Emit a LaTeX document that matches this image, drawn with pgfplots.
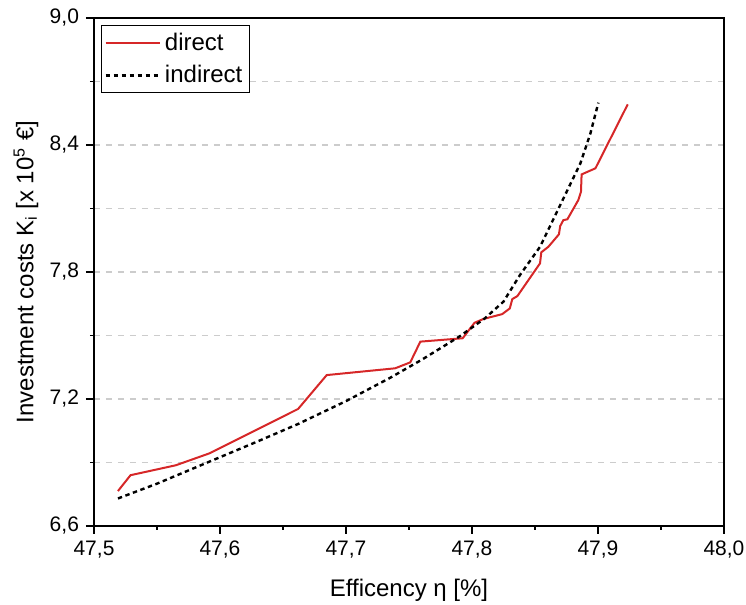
\documentclass[border=0pt]{standalone}
\usepackage{fontspec}
\setmainfont{Liberation Sans}
\usepackage{pgfplots}
\pgfplotsset{compat=1.18}
\definecolor{dred}{RGB}{214,39,40}
\begin{document}
\begin{tikzpicture}
\begin{axis}[
  at={(0,0)}, anchor=south west,
  scale only axis, width=315pt, height=254pt,
  xmin=47.5, xmax=48.0, ymin=6.6, ymax=9.0,
  xtick={47.5,47.6,47.7,47.8,47.9,48.0},
  ytick={6.6,7.2,7.8,8.4,9.0},
  minor x tick num=1, minor y tick num=1,
  tick align=outside, tick pos=left,
  major tick length=4pt, minor tick length=2pt,
  axis line style={line width=1pt},
  every tick/.style={black, line width=0.8pt},
  ymajorgrids, yminorgrids,
  major grid style={dashed, gray!40, line width=0.6pt},
  minor grid style={dashed, gray!40, line width=0.6pt},
  /pgf/number format/assume math mode=true,
  /pgf/number format/.cd, use comma, fixed, fixed zerofill, precision=1, 1000 sep={},
  /pgfplots/.cd,
  tick label style={font=\fontsize{10.5}{12}\selectfont},
  label style={font=\fontsize{12}{14}\selectfont},
  xlabel={Efficency η [\%]},
  ylabel={Investment costs K\textsubscript{i} [x 10\textsuperscript{5} €]},
  xlabel style={at={(axis description cs:0.5,0)}, anchor=center, yshift=-32pt},
  ylabel style={at={(axis description cs:0,0.5)}, anchor=center, rotate=0, yshift=34pt},
  legend style={at={(0.011,0.986)}, anchor=north west, draw=black, line width=0.6pt,
    font=\fontsize{12}{14}\selectfont, inner sep=1.5pt, row sep=2pt},
  legend cell align=left,
  legend image code/.code={\draw[#1] (0cm,0cm) -- (0.95cm,0cm);},
]
\addplot[dred, line width=1pt] coordinates {
(47.519,6.765) (47.529,6.840) (47.565,6.887) (47.5915,6.943) (47.662,7.153)
(47.6847,7.313) (47.739,7.345) (47.751,7.373) (47.759,7.471) (47.7926,7.487)
(47.802,7.560) (47.809,7.578) (47.824,7.601) (47.830,7.628) (47.832,7.672)
(47.836,7.686) (47.854,7.841) (47.855,7.893) (47.8606,7.919) (47.869,7.978)
(47.870,8.017) (47.8725,8.045) (47.8757,8.049) (47.8844,8.140) (47.8865,8.179)
(47.887,8.261) (47.898,8.290) (47.9236,8.592)
};
\addlegendentry{direct}
\addplot[black, line width=1.2pt, dash pattern=on 2.2pt off 1.8pt] coordinates {
(47.519,6.730) (47.55,6.800) (47.59,6.900) (47.63,7.000) (47.662,7.082)
(47.70,7.190) (47.735,7.300) (47.76,7.385) (47.79,7.495) (47.81,7.580)
(47.825,7.660) (47.838,7.785) (47.854,7.919) (47.870,8.116) (47.886,8.313)
(47.894,8.455) (47.9003,8.600)
};
\addlegendentry{indirect}
\end{axis}
\pgfresetboundingbox
\path[use as bounding box] (-47pt,-39.5pt) rectangle (326pt,263pt);
\end{tikzpicture}
\end{document}
